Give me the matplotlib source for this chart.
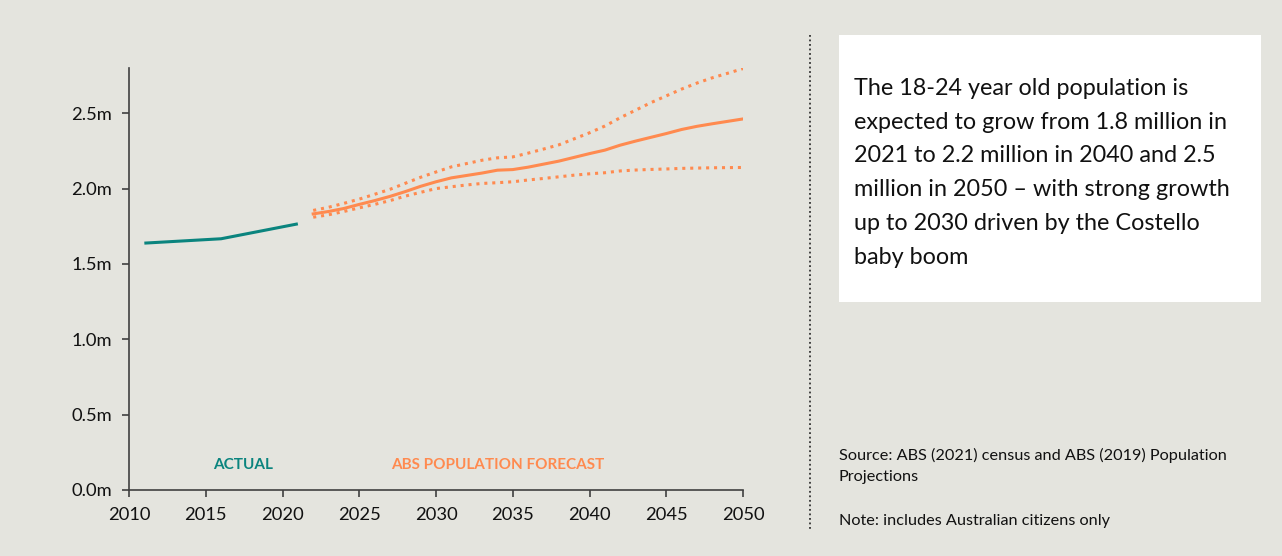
import numpy as np
import matplotlib
matplotlib.use("Agg")
import matplotlib.pyplot as plt
from matplotlib.patches import Rectangle
from matplotlib.lines import Line2D

plt.rcParams['font.family'] = ['Lato', 'DejaVu Sans']

# actual (census years), millions
actual_years = [2011, 2016, 2021]
actual_vals = [1.638, 1.667, 1.766]

# ABS forecast 2022-2050, millions
fc_years = list(range(2022, 2051))
fc_mid = [1.832, 1.848, 1.868, 1.895, 1.920, 1.948, 1.980, 2.015, 2.045, 2.071,
          2.087, 2.103, 2.122, 2.126, 2.142, 2.162, 2.182, 2.207, 2.232, 2.255,
          2.288, 2.315, 2.340, 2.365, 2.392, 2.413, 2.430, 2.446, 2.462]
fc_high = [1.855, 1.876, 1.902, 1.930, 1.962, 1.995, 2.035, 2.075, 2.110, 2.144,
           2.166, 2.188, 2.204, 2.210, 2.235, 2.262, 2.290, 2.330, 2.370, 2.415,
           2.470, 2.520, 2.570, 2.615, 2.660, 2.700, 2.735, 2.765, 2.796]
fc_low = [1.810, 1.826, 1.848, 1.872, 1.895, 1.920, 1.950, 1.975, 2.000, 2.012,
          2.024, 2.034, 2.039, 2.045, 2.057, 2.067, 2.078, 2.089, 2.098, 2.105,
          2.117, 2.123, 2.127, 2.130, 2.134, 2.136, 2.138, 2.139, 2.140]

x_ticks = list(range(2010, 2051, 5))
y_ticks = [0.0, 0.5, 1.0, 1.5, 2.0, 2.5]
y_labels = ['0.0m', '0.5m', '1.0m', '1.5m', '2.0m', '2.5m']

bg = '#E4E4DE'
teal = '#0A847E'
orange = '#FF8A4F'

fig = plt.figure(figsize=(12.82, 5.56), dpi=100, facecolor=bg)
ax = fig.add_axes([129/1282, 66/556, 614/1282, 422/556])
ax.set_facecolor(bg)

ax.plot(actual_years, actual_vals, color=teal, lw=2.2, solid_capstyle='butt')
ax.plot(fc_years, fc_mid, color=orange, lw=2.2)
ax.plot(fc_years, fc_high, color=orange, lw=2.2, ls=(0, (1, 1.6)))
ax.plot(fc_years, fc_low, color=orange, lw=2.2, ls=(0, (1, 1.6)))

ax.set_xlim(2010, 2050)
ax.set_ylim(0, 2.8)
ax.set_xticks(x_ticks)
ax.set_yticks(y_ticks)
ax.set_yticklabels(y_labels)
for s in ['top', 'right']:
    ax.spines[s].set_visible(False)
for s in ['left', 'bottom']:
    ax.spines[s].set_color('#404040')
    ax.spines[s].set_linewidth(1.2)
ax.tick_params(axis='both', direction='out', length=5, width=1.2, color='#404040',
               labelsize=13.2, labelcolor='#111111', pad=7)

ax.text(2017.4, 0.14, 'ACTUAL', color=teal, fontsize=11, fontweight='bold', ha='center')
ax.text(2034.0, 0.14, 'ABS POPULATION FORECAST', color=orange, fontsize=11,
        fontweight='bold', ha='center')

# dotted divider
fig.add_artist(Line2D([810/1282, 810/1282], [1 - 35/556, 1 - 530/556], color='#333333',
                      lw=1.3, ls=(0, (1, 1.5)), transform=fig.transFigure))

# text box
fig.add_artist(Rectangle((839/1282, 1 - 302/556), 422/1282, 267/556, facecolor='white',
                         edgecolor='none', transform=fig.transFigure))
fig.text(854/1282, 1 - 78/556,
         'The 18-24 year old population is\nexpected to grow from 1.8 million in\n'
         '2021 to 2.2 million in 2040 and 2.5\nmillion in 2050 \u2013 with strong growth\n'
         'up to 2030 driven by the Costello\nbaby boom',
         fontsize=16.8, color='#111111', va='top', ha='left', linespacing=1.75)

fig.text(839/1282, 1 - 448/556, 'Source: ABS (2021) census and ABS (2019) Population\nProjections',
         fontsize=11.7, color='#111111', va='top', ha='left', linespacing=1.65)
fig.text(839/1282, 1 - 514/556, 'Note: includes Australian citizens only',
         fontsize=11.7, color='#111111', va='top', ha='left')

fig.savefig('out.png', dpi=100, facecolor=bg)
